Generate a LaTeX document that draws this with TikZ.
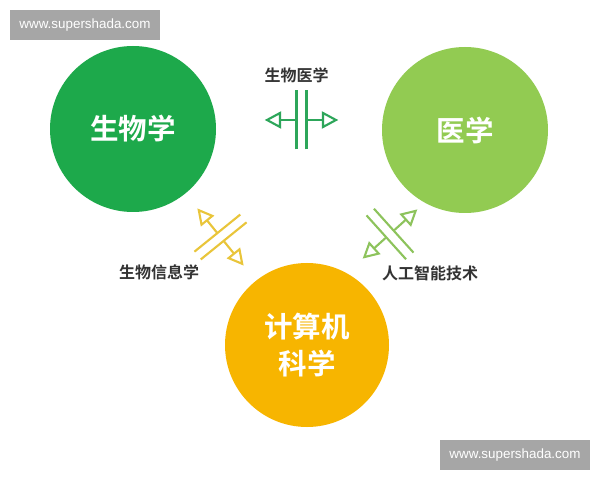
\documentclass[tikz,border=0pt]{standalone}
\usepackage{fontspec}
\setmainfont{Liberation Sans}
\newfontfamily\cjk{Noto Sans CJK SC}[BoldFont={Noto Sans CJK SC Bold}]
\definecolor{cbio}{HTML}{1DA94B}
\definecolor{cmed}{HTML}{92CB52}
\definecolor{ccs}{HTML}{F7B500}
\definecolor{lbio}{HTML}{2DA65A}
\definecolor{lcs}{HTML}{E9C53A}
\definecolor{lmed}{HTML}{8DC35C}
\definecolor{wm}{HTML}{A6A6A6}
\definecolor{txt}{HTML}{333333}
\tikzset{
  circ/.style={circle, inner sep=0pt, minimum size=166pt, text=white,
    font=\cjk\bfseries\fontsize{28.5}{37}\selectfont, align=center},
  lab/.style={text=txt, font=\cjk\bfseries\fontsize{16}{18}\selectfont, inner sep=0pt},
  wmark/.style={fill=wm, text=white, minimum width=150pt, minimum height=30pt,
    inner sep=0pt, font=\fontsize{13.4}{15}\selectfont},
  bline/.style={line width=2.1pt, line join=miter},
  bridge/.pic={
    \draw[bline] (-5,-29.5) -- (-5,29.5);
    \draw[bline] (5,-29.5) -- (5,29.5);
    \draw[bline] (-5,0) -- (-21.5,0);
    \draw[bline] (5,0) -- (21.5,0);
    \draw[bline, fill=white] (-34.5,0) -- (-21.5,7) -- (-21.5,-7) -- cycle;
    \draw[bline, fill=white] (34.5,0) -- (21.5,7) -- (21.5,-7) -- cycle;
  }
}
\begin{document}
\begin{tikzpicture}[x=1pt,y=1pt]
\useasboundingbox (0,0) rectangle (600,480);
\fill[white] (0,0) rectangle (600,480);
% watermarks
\node[wmark] (wm1) at (85,455) {www.supershada.com};
\node[wmark] (wm2) at (515,25) {www.supershada.com};
% circles
\node[circ, fill=cbio] (bio) at (133,351) {生物学};
\node[circ, fill=cmed] (med) at (465,350) {医学};
\node[circ, fill=ccs, minimum size=164pt] (cs) at (307,135) {计算机\\科学};
% bridges
\pic[color=lbio] (b1) at (301.5,360) {bridge};
\pic[color=lcs, rotate=-51] (b2) at (220.5,243) {bridge};
\pic[color=lmed, rotate=42] (b3) at (390,246) {bridge};
% labels
\node[lab] (l1) at (296.5,404.5) {生物医学};
\node[lab] (l2) at (159,207.5) {生物信息学};
\node[lab] (l3) at (430,207) {人工智能技术};
\end{tikzpicture}
\end{document}
